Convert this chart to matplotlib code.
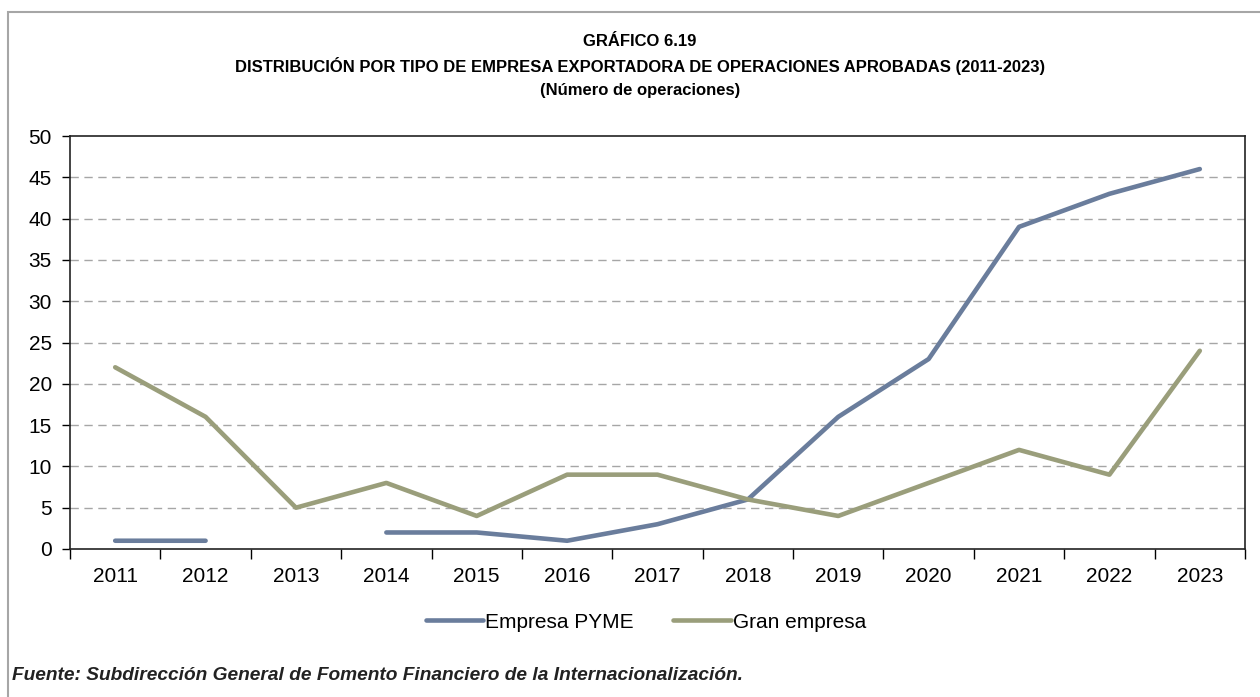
import numpy as np
import matplotlib
matplotlib.use("Agg")
import matplotlib.pyplot as plt
from matplotlib.patches import Rectangle

years = ["2011", "2012", "2013", "2014", "2015", "2016", "2017", "2018", "2019", "2020", "2021", "2022", "2023"]
pyme = [1, 1, np.nan, 2, 2, 1, 3, 6, 16, 23, 39, 43, 46]
gran = [22, 16, 5, 8, 4, 9, 9, 6, 4, 8, 12, 9, 24]
yticks = [0, 5, 10, 15, 20, 25, 30, 35, 40, 45, 50]

plt.rcParams['font.family'] = ['Liberation Sans', 'DejaVu Sans']

W, H = 1260, 697
fig = plt.figure(figsize=(W / 100, H / 100), dpi=100)

# figure frame
fig.patches.append(Rectangle((8 / W, -0.01), 1.1, 1 - 12 / H + 0.01, transform=fig.transFigure,
                             fill=False, edgecolor='#a6a6a6', linewidth=1.5))

ax = fig.add_axes([70 / W, 1 - 549 / H, (1245 - 70) / W, (549 - 136) / H])
x = np.arange(len(years))
ax.plot(x, pyme, color='#6a7d9c', lw=3.3, solid_capstyle='round', solid_joinstyle='round', label='Empresa PYME', zorder=3)
ax.plot(x, gran, color='#9a9e7b', lw=3.3, solid_capstyle='round', solid_joinstyle='round', label='Gran empresa', zorder=3)

ax.set_xlim(-0.5, len(years) - 0.5)
ax.set_ylim(0, 50)
ax.set_yticks(yticks)
ax.set_yticklabels([str(v) for v in yticks], fontsize=15)
ax.set_xticks(x)
ax.set_xticklabels(years, fontsize=15)
ax.tick_params(axis='x', length=0, pad=13)
ax.set_xticks(np.arange(-0.5, len(years), 1), minor=True)
ax.tick_params(axis='x', which='minor', length=7, width=1, direction='out')
ax.tick_params(axis='y', length=6, width=1, direction='out', pad=7)
for v in yticks[1:-1]:
    ax.axhline(v, color='#a6a6a6', lw=1, ls=(0, (6, 4)), zorder=1)
for s in ax.spines.values():
    s.set_color('#222222')
    s.set_linewidth(1.2)

leg = fig.legend(loc='center', bbox_to_anchor=(646 / W, 1 - 622 / H), ncol=2, frameon=False,
                 fontsize=15, handlelength=2.75, handletextpad=0.1, columnspacing=1.9)

tfam = ['Liberation Sans Narrow', 'Liberation Sans']
fig.text(640 / W, 1 - 41 / H, "GRÁFICO 6.19", ha='center', va='center', fontsize=12, fontweight='bold', family=tfam)
fig.text(640 / W, 1 - 66 / H, "DISTRIBUCIÓN POR TIPO DE EMPRESA EXPORTADORA DE OPERACIONES APROBADAS (2011-2023)",
         ha='center', va='center', fontsize=12, fontweight='bold', family=tfam)
fig.text(640 / W, 1 - 91 / H, "(Número de operaciones)", ha='center', va='center', fontsize=12, fontweight='bold', family=tfam)
fig.text(12 / W, 1 - 676 / H, "Fuente: Subdirección General de Fomento Financiero de la Internacionalización.",
         ha='left', va='center', fontsize=13.8, fontweight='bold', style='italic', color='#222222')

fig.savefig("out.png", dpi=100)
